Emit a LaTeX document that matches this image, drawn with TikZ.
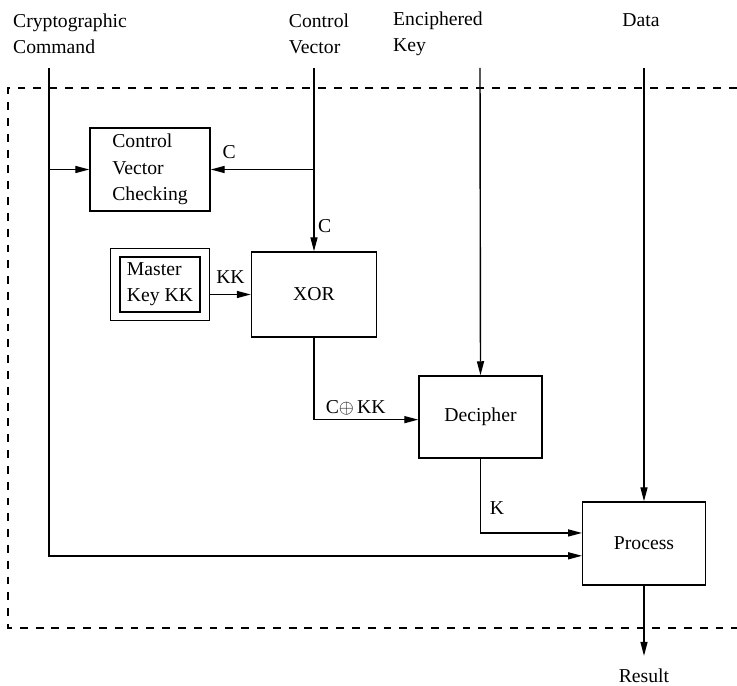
\documentclass[tikz,border=0pt]{standalone}
\usepackage{fontspec}
\setmainfont{Liberation Serif}
\usetikzlibrary{arrows.meta,positioning,calc,fit}

\begin{document}
\begin{tikzpicture}[
  x=0.02cm, y=-0.02cm,
  font=\fontsize{11.2pt}{15pt}\selectfont,
  box/.style={rectangle, draw, line width=0.8pt, minimum width=2.45cm,
              minimum height=1.66cm, align=center},
  arrow/.style={-{Triangle[length=8pt,width=4pt]}, line width=0.8pt},
  frame/.style={line width=0.7pt, dash pattern=on 4.5pt off 4.5pt},
  lbl/.style={inner sep=2pt}
]
  \useasboundingbox (0,0) rectangle (737,686);

  % inputs on top
  \node[align=left] (cmdtxt)  at (70,34)  {Cryptographic\\Command};
  \node[align=left] (cvtxt)   at (319,34) {Control\\Vector};
  \node[align=left] (ektxt)   at (438,34) {Enciphered\\Key};
  \node             (datatxt) at (641,20) {Data};
  \coordinate (cmdin)  at (49,68);
  \coordinate (cvin)   at (314,68);
  \coordinate (ekin)   at (480,68);
  \coordinate (datain) at (644,68);

  % blocks
  \node[box, minimum width=2.4cm, align=left] (cvc) at (150,169.5)
       {Control\\Vector\\Checking};
  \node[draw, line width=0.8pt, minimum width=1.6cm, minimum height=0.9cm,
        align=left] (mkin) at (160,284.5) {Master\\Key KK};
  \node[draw, line width=0.8pt, fit=(mkin), inner xsep=5pt, inner ysep=4.5pt] (mk) {};
  \node[box, minimum width=2.5cm, minimum height=1.7cm] (xor) at (314,294.5) {XOR};
  \node[box, minimum width=2.46cm, minimum height=1.64cm] (dec) at (480.5,417) {Decipher};
  \node[box] (proc) at (644,543.5) {Process};
  \node (result) at (644,676) {Result};

  % secure boundary
  \draw[frame] (737,88) -- (8,88) -- (8,628) -- (737,628);

  % connectors
  \draw[arrow] (cmdin) |- ($(proc.west)+(0pt,-7pt)$);
  \draw[arrow] (cvc.west -| cmdin) -- (cvc.west);
  \draw[arrow] (cvin) -- node[lbl, right, pos=0.86] {C} (xor.north);
  \draw[arrow] (cvc.east -| cvin) -- node[lbl, above=4pt, pos=0.82] {C} (cvc.east);
  \draw[arrow] (mk.east |- xor.west) -- node[lbl, above=4pt] {KK} (xor.west);
  \draw[arrow] (xor.south) |- node[lbl, above, pos=0.7] {C$\oplus$\,KK} ($(dec.west)+(0pt,-1.5pt)$);
  \draw[arrow] (ekin) -- (dec.north);
  \draw[arrow] (dec.south) |- node[lbl, right=3pt, pos=0.33] {K} ($(proc.west)+(0pt,6pt)$);
  \draw[arrow] (datain) -- (proc.north);
  \draw[arrow, shorten >=4pt] (proc.south) -- (result.north);
\end{tikzpicture}
\end{document}
